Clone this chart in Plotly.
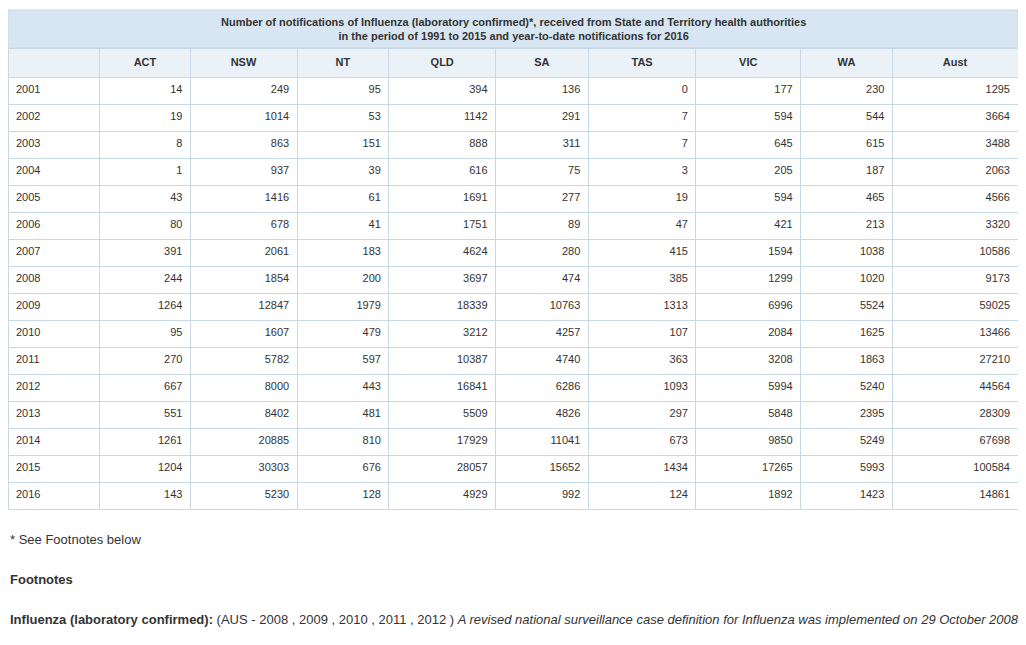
import plotly.graph_objects as go

# the page has an 8px body margin, so the figure sits at (8, 8)
W, H = 1012, 629
OFF = 8

years = ["2001", "2002", "2003", "2004", "2005", "2006", "2007", "2008",
         "2009", "2010", "2011", "2012", "2013", "2014", "2015", "2016"]
states = ["ACT", "NSW", "NT", "QLD", "SA", "TAS", "VIC", "WA", "Aust"]

act = [14, 19, 8, 1, 43, 80, 391, 244, 1264, 95, 270, 667, 551, 1261, 1204, 143]
nsw = [249, 1014, 863, 937, 1416, 678, 2061, 1854, 12847, 1607, 5782, 8000, 8402, 20885, 30303, 5230]
nt = [95, 53, 151, 39, 61, 41, 183, 200, 1979, 479, 597, 443, 481, 810, 676, 128]
qld = [394, 1142, 888, 616, 1691, 1751, 4624, 3697, 18339, 3212, 10387, 16841, 5509, 17929, 28057, 4929]
sa = [136, 291, 311, 75, 277, 89, 280, 474, 10763, 4257, 4740, 6286, 4826, 11041, 15652, 992]
tas = [0, 7, 7, 3, 19, 47, 415, 385, 1313, 107, 363, 1093, 297, 673, 1434, 124]
vic = [177, 594, 645, 205, 594, 421, 1594, 1299, 6996, 2084, 3208, 5994, 5848, 9850, 17265, 1892]
wa = [230, 544, 615, 187, 465, 213, 1038, 1020, 5524, 1625, 1863, 5240, 2395, 5249, 5993, 1423]
aust = [1295, 3664, 3488, 2063, 4566, 3320, 10586, 9173, 59025, 13466, 27210, 44564, 28309, 67698, 100584, 14861]


def px(x):
    return max(0, (x - OFF) / W)


def py(y):
    return 1 - (y - OFF) / H


col_px = [92, 91, 107, 92, 107, 93, 108, 105, 92, 126]
border = "#c8d9e6"
font = dict(family="Liberation Sans, Arial", size=11, color="#333333")

x0, x1 = px(8), px(1018)
fig = go.Figure()

# spanning title row
fig.add_shape(type="rect", xref="paper", yref="paper", layer="below",
              x0=x0, x1=x1, y0=py(48), y1=py(10),
              fillcolor="#d7e6f2", line=dict(color=border, width=1))
fig.add_annotation(
    xref="paper", yref="paper", x=(x0 + x1) / 2, y=py(29), yanchor="middle",
    showarrow=False,
    text="<b>Number of notifications of Influenza (laboratory confirmed)*, received from State and Territory health authorities"
         "<br>in the period of 1991 to 2015 and year-to-date notifications for 2016</b>",
    font=font, align="center",
)

fig.add_trace(go.Table(
    domain=dict(x=[x0, x1], y=[0.05, py(48)]),
    columnwidth=col_px,
    header=dict(
        values=[""] + [f"<b>{s}</b>" for s in states],
        fill_color="#eaf2f8", line_color=border, height=29,
        align="center", font=font,
    ),
    cells=dict(
        values=[years, act, nsw, nt, qld, sa, tas, vic, wa, aust],
        fill_color="white", line_color=border, height=27,
        align=["left"] + ["right"] * 9, font=font,
    ),
))

foot_font = dict(family="Liberation Sans, Arial", size=13, color="#333333")
fig.add_annotation(xref="paper", yref="paper", x=px(5), y=py(549), xanchor="left",
                   showarrow=False, text="* See Footnotes below", font=foot_font)
fig.add_annotation(xref="paper", yref="paper", x=px(5), y=py(589), xanchor="left",
                   showarrow=False, text="<b>Footnotes</b>", font=foot_font)
fig.add_annotation(
    xref="paper", yref="paper", x=px(5), y=py(629), xanchor="left", showarrow=False,
    text="<b>Influenza (laboratory confirmed):</b> (AUS - 2008 , 2009 , 2010 , 2011 , 2012 ) "
         "<i>A revised national surveillance case definition for Influenza was implemented on 29 October 2008</i>",
    font=foot_font,
)

fig.update_layout(width=W, height=H, margin=dict(l=0, r=0, t=0, b=0),
                  paper_bgcolor="white", plot_bgcolor="white")
fig.write_html("out.html")
